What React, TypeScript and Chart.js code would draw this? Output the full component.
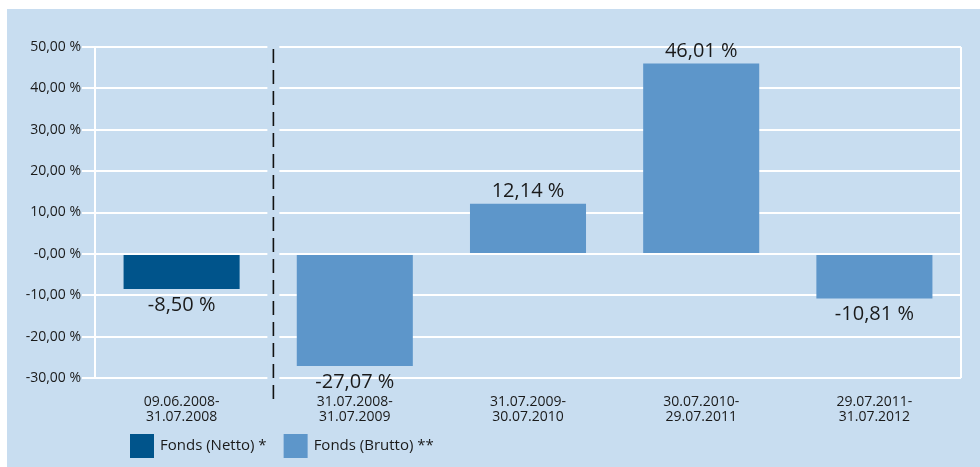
import React, { useEffect, useRef } from "react";
import { Chart, registerables } from "chart.js";

Chart.register(...registerables);

const categories: string[][] = [
  ["09.06.2008-", "31.07.2008"],
  ["31.07.2008-", "31.07.2009"],
  ["31.07.2009-", "30.07.2010"],
  ["30.07.2010-", "29.07.2011"],
  ["29.07.2011-", "31.07.2012"],
];
const nettoValues: (number | null)[] = [-8.5, null, null, null, null];
const bruttoValues: (number | null)[] = [null, -27.07, 12.14, 46.01, -10.81];
const seriesLabels = ["Fonds (Netto) *", "Fonds (Brutto) **"];
const yTickValues = [50, 40, 30, 20, 10, 0, -10, -20, -30];
const yTickLabels = ["50,00 %", "40,00 %", "30,00 %", "20,00 %", "10,00 %", "-0,00 %", "-10,00 %", "-20,00 %", "-30,00 %"];

const BG = "#c8ddf0";
const DARK = "#00548b";
const LIGHT = "#5d96ca";
const TEXT = "#1a1a1a";
const FONT = "'Open Sans', 'DejaVu Sans', sans-serif";

const fmt = (v: number) => v.toFixed(2).replace(".", ",") + " %";

const overlayPlugin = {
  id: "overlay",
  beforeDatasetsDraw(chart: any) {
    const { ctx, chartArea, scales } = chart;
    const x = scales.x.getPixelForValue(0.53);
    ctx.save();
    ctx.fillStyle = BG;
    ctx.fillRect(x - 6, chartArea.top - 3, 12, chartArea.bottom - chartArea.top + 6);
    ctx.restore();
  },
  afterDatasetsDraw(chart: any) {
    const { ctx, chartArea, scales } = chart;
    // dashed separator
    const x = scales.x.getPixelForValue(0.53);
    ctx.save();
    ctx.strokeStyle = "#111";
    ctx.lineWidth = 1.6;
    ctx.setLineDash([14, 7]);
    ctx.beginPath();
    ctx.moveTo(x, chartArea.top + 2);
    ctx.lineTo(x, chartArea.bottom + 28);
    ctx.stroke();
    ctx.setLineDash([]);

    // value labels
    ctx.font = `20px ${FONT}`;
    ctx.fillStyle = TEXT;
    ctx.textAlign = "center";
    ctx.textBaseline = "middle";
    chart.data.datasets.forEach((ds: any, di: number) => {
      const meta = chart.getDatasetMeta(di);
      meta.data.forEach((bar: any, i: number) => {
        const v = ds.data[i];
        if (v === null || v === undefined) return;
        const y = v >= 0 ? bar.y - 12 : bar.y + 16;
        ctx.fillText(fmt(v), bar.x, y);
      });
    });

    // legend
    ctx.font = `15px ${FONT}`;
    ctx.textAlign = "left";
    let lx = chartArea.left + 35;
    const ly = chartArea.bottom + 56;
    chart.data.datasets.forEach((ds: any) => {
      ctx.fillStyle = ds.backgroundColor;
      ctx.fillRect(lx, ly, 24, 24);
      ctx.fillStyle = TEXT;
      ctx.fillText(ds.label, lx + 30, ly + 12);
      lx += 30 + ctx.measureText(ds.label).width + 17;
    });
    ctx.restore();
  },
  afterDraw(chart: any) {
    const { ctx, chartArea } = chart;
    ctx.save();
    ctx.strokeStyle = "#ffffff";
    ctx.lineWidth = 2;
    ctx.beginPath();
    ctx.moveTo(chartArea.right, chartArea.top);
    ctx.lineTo(chartArea.right, chartArea.bottom);
    ctx.stroke();
    ctx.restore();
  },
};

export default function App() {
  const ref = useRef<HTMLCanvasElement | null>(null);
  useEffect(() => {
    if (!ref.current) return;
    const chart = new Chart(ref.current, {
      type: "bar",
      data: {
        labels: categories,
        datasets: [
          {
            label: seriesLabels[0],
            data: nettoValues,
            backgroundColor: DARK,
            skipNull: true,
            barPercentage: 0.67,
            categoryPercentage: 1,
          } as any,
          {
            label: seriesLabels[1],
            data: bruttoValues,
            backgroundColor: LIGHT,
            skipNull: true,
            barPercentage: 0.67,
            categoryPercentage: 1,
          } as any,
        ],
      },
      options: {
        animation: false,
        responsive: false,
        maintainAspectRatio: false,
        layout: { padding: { top: 38, right: 19, left: 0, bottom: 0 } },
        plugins: {
          legend: { display: false },
          tooltip: { enabled: false },
        },
        scales: {
          x: {
            grid: { display: false, drawTicks: false },
            border: { display: false },
            ticks: {
              color: TEXT,
              font: { family: FONT, size: 14, lineHeight: 1.1 },
              padding: 16,
              maxRotation: 0,
              autoSkip: false,
            },
            afterFit: (s: any) => {
              s.height = 89;
            },
          },
          y: {
            min: -30,
            max: 50,
            afterBuildTicks: (s: any) => {
              s.ticks = yTickValues.map((v) => ({ value: v }));
            },
            grid: {
              color: "#ffffff",
              lineWidth: 2,
              tickLength: 13,
              drawTicks: true,
            },
            border: { display: true, color: "#ffffff", width: 2 },
            ticks: {
              color: TEXT,
              font: { family: FONT, size: 14 },
              padding: 1,
              callback: (v: any) => {
                const idx = yTickValues.indexOf(Number(v));
                return idx >= 0 ? yTickLabels[idx] : "";
              },
            },
            afterFit: (s: any) => {
              s.width = 88;
            },
          },
        },
      },
      plugins: [overlayPlugin],
    });
    return () => chart.destroy();
  }, []);

  return (
    <div
      style={{
        position: "absolute",
        left: 7,
        top: 9,
        width: 973,
        height: 458,
        background: BG,
      }}
    >
      <canvas ref={ref} width={973} height={458} style={{ display: "block" }} />
    </div>
  );
}
